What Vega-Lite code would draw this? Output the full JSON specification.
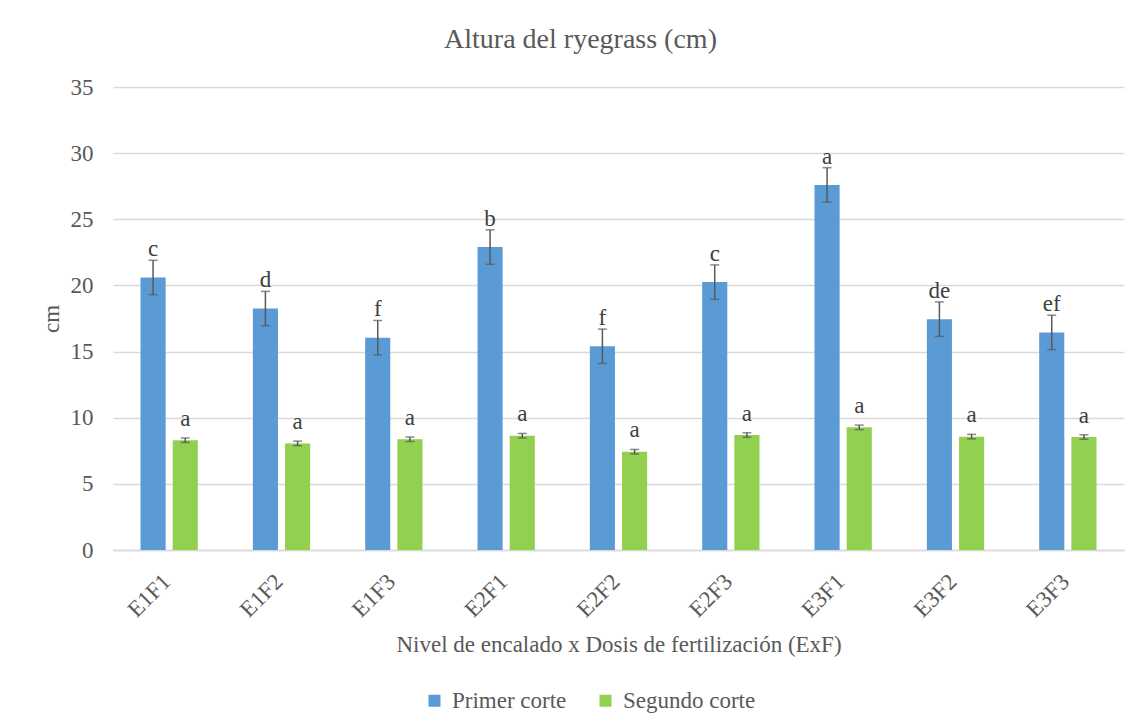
{
  "$schema": "https://vega.github.io/schema/vega-lite/v6.json",
  "autosize": {"type": "none"},
  "width": 1011,
  "height": 463,
  "padding": {"left": 113, "top": 87, "right": 10, "bottom": 176},
  "background": "white",
  "title": {
    "text": "Altura del ryegrass (cm)",
    "font": "'Liberation Serif', 'Times New Roman', 'DejaVu Serif', serif",
    "fontSize": 28,
    "fontWeight": "normal",
    "color": "#595959",
    "anchor": "middle",
    "dx": -38,
    "baseline": "alphabetic",
    "offset": 0
  },
  "data": {
    "values": [
      {"trat": "E1F1", "corte": "Primer corte", "valor": 20.6, "lo": 19.3, "hi": 21.9, "letra": "c"},
      {"trat": "E1F1", "corte": "Segundo corte", "valor": 8.3, "lo": 8.13, "hi": 8.47, "letra": "a"},
      {"trat": "E1F2", "corte": "Primer corte", "valor": 18.25, "lo": 16.95, "hi": 19.55, "letra": "d"},
      {"trat": "E1F2", "corte": "Segundo corte", "valor": 8.06, "lo": 7.89, "hi": 8.23, "letra": "a"},
      {"trat": "E1F3", "corte": "Primer corte", "valor": 16.05, "lo": 14.75, "hi": 17.35, "letra": "f"},
      {"trat": "E1F3", "corte": "Segundo corte", "valor": 8.37, "lo": 8.2, "hi": 8.54, "letra": "a"},
      {"trat": "E2F1", "corte": "Primer corte", "valor": 22.9, "lo": 21.6, "hi": 24.2, "letra": "b"},
      {"trat": "E2F1", "corte": "Segundo corte", "valor": 8.64, "lo": 8.47, "hi": 8.81, "letra": "a"},
      {"trat": "E2F2", "corte": "Primer corte", "valor": 15.4, "lo": 14.1, "hi": 16.7, "letra": "f"},
      {"trat": "E2F2", "corte": "Segundo corte", "valor": 7.43, "lo": 7.26, "hi": 7.6, "letra": "a"},
      {"trat": "E2F3", "corte": "Primer corte", "valor": 20.25, "lo": 18.95, "hi": 21.55, "letra": "c"},
      {"trat": "E2F3", "corte": "Segundo corte", "valor": 8.69, "lo": 8.52, "hi": 8.86, "letra": "a"},
      {"trat": "E3F1", "corte": "Primer corte", "valor": 27.6, "lo": 26.3, "hi": 28.9, "letra": "a"},
      {"trat": "E3F1", "corte": "Segundo corte", "valor": 9.27, "lo": 9.1, "hi": 9.44, "letra": "a"},
      {"trat": "E3F2", "corte": "Primer corte", "valor": 17.45, "lo": 16.15, "hi": 18.75, "letra": "de"},
      {"trat": "E3F2", "corte": "Segundo corte", "valor": 8.57, "lo": 8.4, "hi": 8.74, "letra": "a"},
      {"trat": "E3F3", "corte": "Primer corte", "valor": 16.45, "lo": 15.15, "hi": 17.75, "letra": "ef"},
      {"trat": "E3F3", "corte": "Segundo corte", "valor": 8.54, "lo": 8.37, "hi": 8.71, "letra": "a"}
    ]
  },
  "encoding": {
    "x": {
      "field": "trat",
      "type": "nominal",
      "sort": null,
      "scale": {"paddingInner": 0.49, "paddingOuter": 0.245},
      "axis": {
        "title": "Nivel de encalado x Dosis de fertilización (ExF)",
        "labelAngle": -45,
        "labelFontSize": 23,
        "labelPadding": 20,
        "labelOffset": -10,
        "ticks": false,
        "domainColor": "#d9d9d9",
        "domainWidth": 1.5,
        "grid": false,
        "titleFontSize": 23,
        "titlePadding": 12
      }
    },
    "xOffset": {
      "field": "corte",
      "type": "nominal",
      "scale": {"paddingInner": 0.22, "paddingOuter": 0}
    }
  },
  "layer": [
    {
      "mark": {"type": "bar"},
      "encoding": {
        "y": {
          "field": "valor",
          "type": "quantitative",
          "scale": {"domain": [0, 35], "nice": false},
          "axis": {
            "values": [0, 5, 10, 15, 20, 25, 30, 35],
            "title": "cm",
            "labelFontSize": 23,
            "labelPadding": 20,
            "ticks": false,
            "tickSize": 0,
            "domain": false,
            "grid": true,
            "gridColor": "#d9d9d9",
            "gridWidth": 1.5,
            "titleFontSize": 23,
            "titlePadding": 7
          }
        },
        "color": {
          "field": "corte",
          "type": "nominal",
          "scale": {"domain": ["Primer corte", "Segundo corte"], "range": ["#5B9BD5", "#92D050"]},
          "legend": {
            "title": null,
            "orient": "none",
            "legendX": 310,
            "legendY": 602,
            "direction": "horizontal",
            "symbolType": "square",
            "symbolSize": 144,
            "symbolStrokeWidth": 0,
            "symbolOpacity": 1,
            "labelFontSize": 23,
            "labelOffset": 6,
            "columnPadding": 27,
            "padding": 0
          }
        }
      }
    },
    {
      "mark": {"type": "rule", "color": "#595959", "strokeWidth": 1.5},
      "encoding": {
        "y": {"field": "lo", "type": "quantitative"},
        "y2": {"field": "hi"}
      }
    },
    {
      "mark": {"type": "tick", "color": "#595959", "thickness": 1.5, "size": 9},
      "encoding": {"y": {"field": "lo", "type": "quantitative"}}
    },
    {
      "mark": {"type": "tick", "color": "#595959", "thickness": 1.5, "size": 9},
      "encoding": {"y": {"field": "hi", "type": "quantitative"}}
    },
    {
      "transform": [{"filter": "datum.corte === 'Primer corte'"}],
      "mark": {"type": "text", "font": "'Liberation Serif', 'Times New Roman', 'DejaVu Serif', serif", "fontSize": 23, "color": "#404040", "baseline": "alphabetic", "dy": -4},
      "encoding": {
        "y": {"field": "hi", "type": "quantitative"},
        "text": {"field": "letra"}
      }
    },
    {
      "transform": [{"filter": "datum.corte === 'Segundo corte'"}],
      "mark": {"type": "text", "font": "'Liberation Serif', 'Times New Roman', 'DejaVu Serif', serif", "fontSize": 23, "color": "#404040", "baseline": "alphabetic", "dy": -12},
      "encoding": {
        "y": {"field": "hi", "type": "quantitative"},
        "text": {"field": "letra"}
      }
    }
  ],
  "config": {
    "font": "'Liberation Serif', 'Times New Roman', 'DejaVu Serif', serif",
    "axis": {
      "labelFont": "'Liberation Serif', 'Times New Roman', 'DejaVu Serif', serif",
      "titleFont": "'Liberation Serif', 'Times New Roman', 'DejaVu Serif', serif",
      "labelColor": "#595959",
      "titleColor": "#595959",
      "titleFontWeight": "normal"
    },
    "legend": {
      "labelFont": "'Liberation Serif', 'Times New Roman', 'DejaVu Serif', serif",
      "labelColor": "#595959"
    },
    "view": {"stroke": null}
  }
}
